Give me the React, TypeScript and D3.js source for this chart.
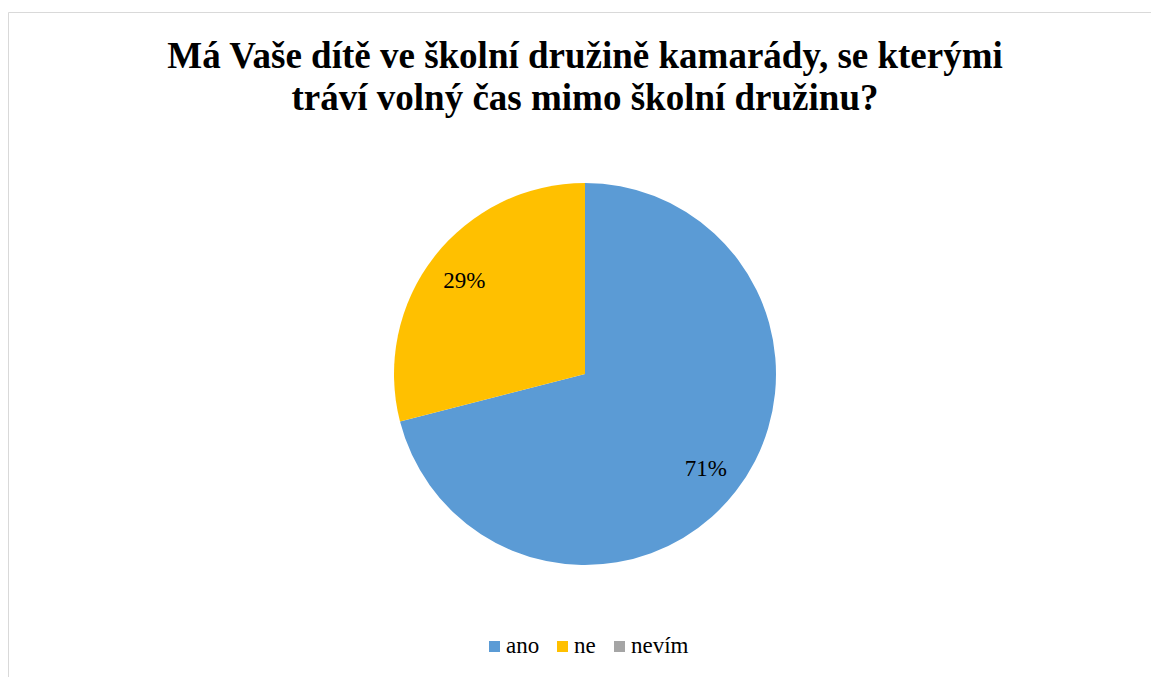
import React from "react";
import * as d3 from "d3";

const titleLines = ["Má Vaše dítě ve školní družině kamarády, se kterými", "tráví volný čas mimo školní družinu?"];
const categories = ["ano", "ne", "nevím"];
const values = [71, 29, 0];
const colors = ["#5B9BD5", "#FFC000", "#A5A5A5"];

const W = 1151;
const H = 677;
const FONT = "Liberation Serif";

export default function App() {
  const cx = 585;
  const cy = 374;
  const r = 191;
  const data = categories.map((c, i) => ({ cat: c, value: values[i], color: colors[i] }));
  const pie = d3.pie<any>().value((d: any) => d.value).sort(null);
  const arcs = pie(data);
  const arc = d3.arc<any>().innerRadius(0).outerRadius(r);
  const labelArc = d3.arc<any>().innerRadius(r * 0.8).outerRadius(r * 0.8);
  const total = d3.sum(values);

  const legendX = [489, 557, 614];

  return (
    <svg width={W} height={H} style={{ position: "absolute", left: 0, top: 0 }} fontFamily={FONT}>
      <rect x={0} y={0} width={W} height={H} fill="#fff" />
      <path d={`M8.5,${H} L8.5,12.5 L${W},12.5`} fill="none" stroke="#d9d9d9" strokeWidth={1} />
      <text x={585} y={0} textAnchor="middle" fontWeight="bold" fontSize={37} fill="#000" fontFamily={FONT}>
        {titleLines.map((l, i) => (
          <tspan key={i} x={585} y={68 + i * 42}>{l}</tspan>
        ))}
      </text>
      <g transform={`translate(${cx},${cy})`}>
        {arcs.map((a, i) => (
          <path key={i} d={arc(a) || ""} fill={data[i].color} />
        ))}
        {arcs.map((a, i) => {
          if (!a.data.value) return null;
          const [x, y] = labelArc.centroid(a);
          return (
            <text key={"l" + i} x={x} y={y + 8} textAnchor="middle" fontSize={23} fill="#000" fontFamily={FONT}>
              {Math.round((a.data.value / total) * 100)}%
            </text>
          );
        })}
      </g>
      {categories.map((c, i) => (
        <g key={c}>
          <rect x={legendX[i]} y={641} width={11} height={11} fill={colors[i]} />
          <text x={legendX[i] + 17} y={653} fontSize={23} fill="#000" fontFamily={FONT}>{c}</text>
        </g>
      ))}
    </svg>
  );
}
